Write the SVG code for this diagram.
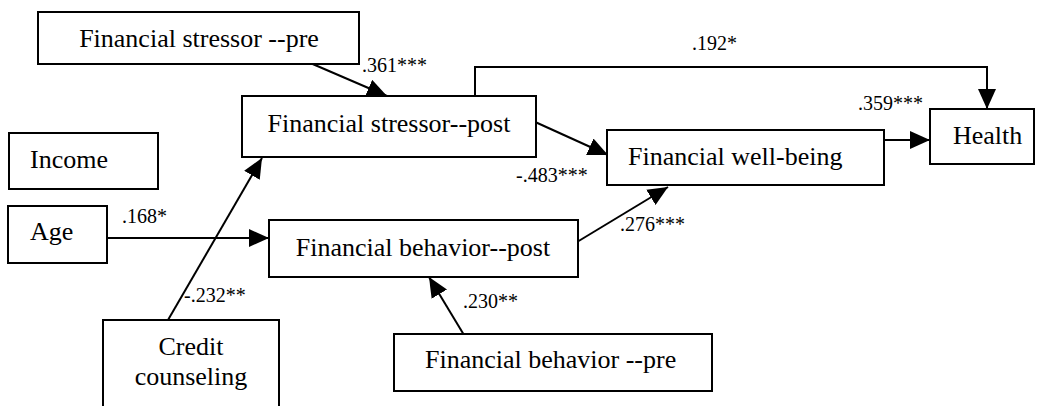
<svg xmlns="http://www.w3.org/2000/svg" width="1037" height="406" viewBox="0 0 1037 406">
<style>
.box{fill:#fff;stroke:#000;stroke-width:2}
.t{font-size:26px;fill:#000}
.l{font-size:20px;fill:#000}
.c{fill:none;stroke:#000;stroke-width:2}
</style>
<defs>
<marker id="ah" viewBox="0 0 20 18" refX="20" refY="9" markerWidth="20" markerHeight="18" orient="auto" markerUnits="userSpaceOnUse">
<path d="M0,0 L20,9 L0,18 z" fill="#000"/>
</marker>
</defs>
<rect width="1037" height="406" fill="#fff"/>
<g font-family="'Liberation Serif', Tinos, 'Times New Roman', 'DejaVu Serif', serif">
<g id="connectors">
<line class="c" x1="308" y1="62" x2="387" y2="96" marker-end="url(#ah)"/>
<line class="c" x1="533" y1="121" x2="608" y2="155" marker-end="url(#ah)"/>
<line class="c" x1="884" y1="140" x2="930" y2="140" marker-end="url(#ah)"/>
<polyline class="c" points="475,96 475,67 987,67 987,109" marker-end="url(#ah)"/>
<line class="c" x1="107" y1="238" x2="269" y2="238" marker-end="url(#ah)"/>
<line class="c" x1="577" y1="242" x2="668" y2="187" marker-end="url(#ah)"/>
<line class="c" x1="464" y1="335" x2="429" y2="277" marker-end="url(#ah)"/>
<line class="c" x1="168" y1="320" x2="262" y2="158" marker-end="url(#ah)"/>
<text class="l" x="362" y="72">.361***</text>
<text class="l" x="692" y="50">.192*</text>
<text class="l" x="858" y="110">.359***</text>
<text class="l" x="516" y="182">-.483***</text>
<text class="l" x="122" y="223">.168*</text>
<text class="l" x="620" y="231">.276***</text>
<text class="l" x="463" y="308">.230**</text>
<text class="l" x="184" y="302">-.232**</text>
</g>
<g id="stressor-pre"><rect class="box" x="38" y="12" width="321" height="52"/><text class="t" x="199" y="47" text-anchor="middle">Financial stressor --pre</text></g>
<g id="stressor-post"><rect class="box" x="242" y="96" width="294" height="61"/><text class="t" x="389" y="132" text-anchor="middle">Financial stressor--post</text></g>
<g id="income"><rect class="box" x="9" y="133" width="149" height="56"/><text class="t" x="30" y="168">Income</text></g>
<g id="age"><rect class="box" x="8" y="206" width="99" height="57"/><text class="t" x="30" y="240">Age</text></g>
<g id="wellbeing"><rect class="box" x="607" y="130" width="277" height="55"/><text class="t" x="628" y="165">Financial well-being</text></g>
<g id="health"><rect class="box" x="930" y="109" width="104" height="55"/><text class="t" x="953" y="144">Health</text></g>
<g id="behavior-post"><rect class="box" x="269" y="220" width="309" height="57"/><text class="t" x="423" y="256" text-anchor="middle">Financial behavior--post</text></g>
<g id="behavior-pre"><rect class="box" x="394" y="334" width="318" height="57"/><text class="t" x="425" y="368">Financial behavior --pre</text></g>
<g id="credit"><rect class="box" x="103" y="320" width="176" height="100"/><text class="t" x="191" y="355" text-anchor="middle">Credit</text><text class="t" x="191" y="385" text-anchor="middle">counseling</text></g>
</g>
</svg>
